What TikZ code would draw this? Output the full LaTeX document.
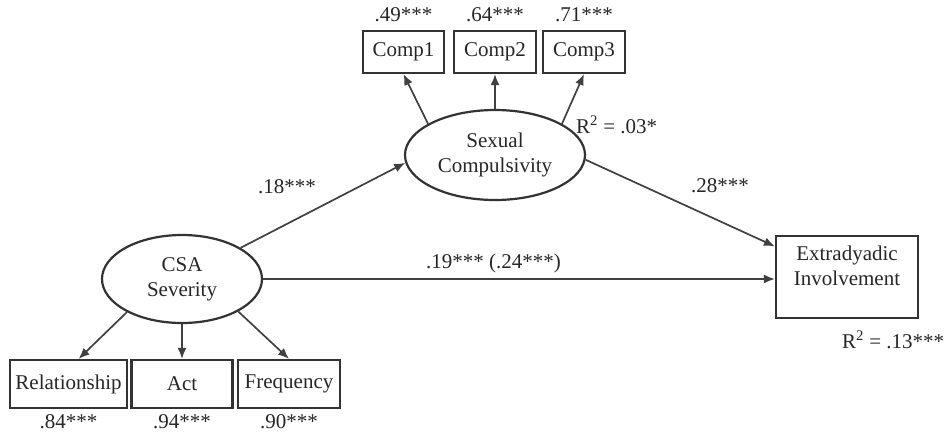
\documentclass[tikz,border=0pt]{standalone}
\usepackage{fontspec}
\setmainfont{Liberation Serif}
\usetikzlibrary{shapes.geometric,arrows.meta,positioning}
\begin{document}
\begin{tikzpicture}[x=1pt, y=-1pt,
	every node/.style={font=\fontsize{21}{25}\selectfont, text=black!85},
	obs/.style={draw=black!80, line width=2.2pt, rectangle, inner sep=0pt, minimum height=42pt},
	lat/.style={draw=black!80, line width=2.2pt, ellipse, align=center, inner sep=0pt},
	path/.style={draw=black!75, line width=1.7pt, -{Latex[length=11pt,width=9pt]}},
	coef/.style={inner sep=0pt}]
	\useasboundingbox (0,0) rectangle (947,432);
	% latent variables
	\node[lat, minimum width=160pt, minimum height=88pt] (csa) at (182,279) {CSA\\Severity};
	\node[lat, minimum width=180pt, minimum height=90pt] (sexcomp) at (495,155) {Sexual\\Compulsivity};
	% indicators
	\node[obs, minimum width=81pt] (comp1) at (403.5,52) {Comp1};
	\node[obs, minimum width=82pt] (comp2) at (495,52) {Comp2};
	\node[obs, minimum width=82pt] (comp3) at (584,52) {Comp3};
	\node[obs, minimum width=117pt, minimum height=48pt] (rel) at (68.5,384) {Relationship};
	\node[obs, minimum width=101pt, minimum height=48pt] (act) at (182,384) {Act};
	\node[obs, minimum width=102pt, minimum height=48pt] (freq) at (289,384) {Frequency};
	% outcome
	\node[obs, align=center, minimum width=142pt, inner ysep=10pt, text depth=22pt] (extra) at (847,277) {Extradyadic\\Involvement};
	% paths
	\draw[path] (csa.28) -- (sexcomp.185);
	\draw[path] (sexcomp.-3) -- (extra.157);
	\draw[path] (csa.east) -- (csa.east -| extra.west) node[coef, pos=0.45, above=5pt] (direct) {.19*** (.24***)};
	\draw[path] (sexcomp.155) -- (comp1.south);
	\draw[path] (sexcomp.north) -- (comp2.south);
	\draw[path] (sexcomp.25) -- (comp3.south);
	\draw[path] (csa.211) -- (rel.68);
	\draw[path] (csa.south) -- (act.north);
	\draw[path] (csa.-30) -- (freq.north);
	% loadings and coefficients
	\node[coef, above=8pt of comp1] (lcomp1) {.49***};
	\node[coef, above=8pt of comp2] (lcomp2) {.64***};
	\node[coef, above=8pt of comp3] (lcomp3) {.71***};
	\node[coef, below=5pt of rel] (lrel) {.84***};
	\node[coef, below=5pt of act] (lact) {.94***};
	\node[coef, below=5pt of freq] (lfreq) {.90***};
	\node[coef, anchor=base] (acsa) at (287,193) {.18***};
	\node[coef, anchor=base] (bsc) at (720,192) {.28***};
	\node[coef, anchor=base west] (rsc) at (576,133) {R\textsuperscript{2} = .03*};
	\node[coef, anchor=base west] (rextra) at (842,348) {R\textsuperscript{2} = .13***};
\end{tikzpicture}
\end{document}
